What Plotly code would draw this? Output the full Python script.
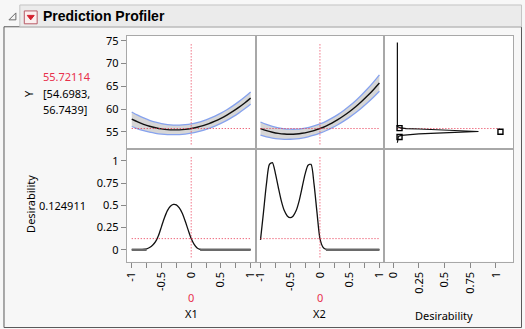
import plotly.graph_objects as go

W, H = 525, 329

# ---- profile data -------------------------------------------------------
# factor grid for the Y profile traces
grid = [-1.0, -0.9, -0.8, -0.7, -0.6, -0.5, -0.4, -0.3, -0.2, -0.1, 0.0,
        0.1, 0.2, 0.3, 0.4, 0.5, 0.6, 0.7, 0.8, 0.9, 1.0]

# predicted Y along X1 (X2 held at 0) and confidence half-width
y_x1 = [57.76, 57.16, 56.65, 56.23, 55.90, 55.65, 55.49, 55.42, 55.43, 55.53, 55.72,
        56.00, 56.36, 56.81, 57.35, 57.97, 58.68, 59.48, 60.37, 61.34, 62.40]
ci_x1 = [1.60, 1.50, 1.40, 1.30, 1.22, 1.15, 1.10, 1.06, 1.04, 1.03, 1.02,
         1.03, 1.05, 1.08, 1.10, 1.13, 1.17, 1.21, 1.26, 1.30, 1.35]

# predicted Y along X2 (X1 held at 0) and confidence half-width
y_x2 = [55.70, 55.25, 54.91, 54.66, 54.51, 54.47, 54.52, 54.67, 54.92, 55.27, 55.72,
        56.27, 56.92, 57.67, 58.52, 59.47, 60.51, 61.66, 62.91, 64.25, 65.70]
ci_x2 = [1.45, 1.36, 1.28, 1.21, 1.15, 1.10, 1.06, 1.04, 1.02, 1.02, 1.02,
         1.04, 1.07, 1.11, 1.17, 1.24, 1.32, 1.42, 1.53, 1.66, 1.80]

# finer grid for the desirability traces
grid_d = [-1.0, -0.95, -0.9, -0.85, -0.8, -0.75, -0.7, -0.65, -0.6, -0.55, -0.5,
          -0.45, -0.4, -0.35, -0.3, -0.25, -0.2, -0.15, -0.1, -0.05, 0.0,
          0.05, 0.1, 0.15, 0.2, 0.25, 0.3, 0.35, 0.4, 0.45, 0.5,
          0.55, 0.6, 0.65, 0.7, 0.75, 0.8, 0.85, 0.9, 0.95, 1.0]
d_x1 = [0, 0, 0, 0, 0.003, 0.01, 0.025, 0.05, 0.09, 0.16, 0.26,
        0.36, 0.44, 0.49, 0.51, 0.505, 0.47, 0.41, 0.32, 0.22, 0.125,
        0.06, 0.02, 0.005, 0, 0, 0, 0, 0, 0, 0,
        0, 0, 0, 0, 0, 0, 0, 0, 0, 0]
d_x2 = [0.11, 0.42, 0.74, 0.96, 0.98, 0.86, 0.70, 0.55, 0.44, 0.38, 0.36,
        0.38, 0.44, 0.55, 0.70, 0.85, 0.95, 0.96, 0.74, 0.42, 0.125,
        0.03, 0.005, 0, 0, 0, 0, 0, 0, 0, 0,
        0, 0, 0, 0, 0, 0, 0, 0, 0, 0]

# desirability function of Y (drawn sideways) and its control handles
desir_d = [0.04, 0.04, 0.06, 0.125, 0.25, 0.51, 0.83, 0.60, 0.25, 0.08, 0.05, 0.04]
desir_y = [74.6, 56.2, 55.9, 55.72, 55.62, 55.41, 55.07, 54.88, 54.55, 54.2, 54.0, 52.6]
handle_d = [0.061, 0.061, 1.044]
handle_y = [55.8, 53.85, 55.0]

# current settings
x1_now, x2_now = 0, 0
y_now, y_lo, y_hi = 55.72114, 54.6983, 56.7439
d_now = 0.124911
y_span = [52.24, 74.57]
d_span = [-0.086, 1.059]

# axis ranges and ticks
x_range = [-1.083, 1.083]
y_range = [51.3, 76.1]
d_range_x = [-0.087, 1.167]
d_range_y = [-0.134, 1.137]
x_tickvals = [-1, -0.75, -0.5, -0.25, 0, 0.25, 0.5, 0.75, 1]
x_ticktext = ["-1", "", "-0.5", "", "0", "", "0.5", "", "1"]
y_tickvals = [55, 60, 65, 70, 75]
d_tickvals = [0, 0.25, 0.5, 0.75, 1]
d_ticktext = ["0", "0.25", "0.5", "0.75", "1"]

# ---- styling -------------------------------------------------------------
FONT = "Noto Sans"
RED = "#e8304c"
DOTS = "1px,2px"
BAND_FILL = "#d6d6d6"
BAND_EDGE = "#86a2ee"
FRAME = "#a8a8a8"


def fx(px):
    return px / W


def fy(py):
    return 1 - py / H


cols = [(125, 255), (255, 385), (385, 515)]
rows = [(33, 147), (147, 261)]

fig = go.Figure()


def band(xs, ys, ci, xa, ya):
    upper = [v + c for v, c in zip(ys, ci)]
    lower = [v - c for v, c in zip(ys, ci)]
    fig.add_trace(go.Scatter(x=xs, y=upper, mode="lines", xaxis=xa, yaxis=ya,
                             line=dict(color=BAND_EDGE, width=1.3, shape="spline"),
                             hoverinfo="skip"))
    fig.add_trace(go.Scatter(x=xs, y=lower, mode="lines", xaxis=xa, yaxis=ya,
                             fill="tonexty", fillcolor=BAND_FILL,
                             line=dict(color=BAND_EDGE, width=1.3, shape="spline"),
                             hoverinfo="skip"))
    fig.add_trace(go.Scatter(x=xs, y=ys, mode="lines", xaxis=xa, yaxis=ya,
                             line=dict(color="#111111", width=1.4, shape="spline")))


def ref_lines(xa, ya, xv, yv, yspan, xspan):
    fig.add_trace(go.Scatter(x=[xv, xv], y=yspan, mode="lines", xaxis=xa, yaxis=ya,
                             line=dict(color=RED, width=1, dash=DOTS)))
    fig.add_trace(go.Scatter(x=xspan, y=[yv, yv], mode="lines", xaxis=xa, yaxis=ya,
                             line=dict(color=RED, width=1, dash=DOTS)))


def desir_curve(xs, ds, xa, ya):
    flat_x = [x if d < 0.015 else None for x, d in zip(xs, ds)]
    flat_y = [0 if d < 0.015 else None for d in ds]
    fig.add_trace(go.Scatter(x=xs, y=ds, mode="lines", xaxis=xa, yaxis=ya,
                             line=dict(color="#111111", width=1.3, shape="spline",
                                       smoothing=0.7)))
    fig.add_trace(go.Scatter(x=flat_x, y=flat_y, mode="lines", xaxis=xa, yaxis=ya,
                             connectgaps=False,
                             line=dict(color="#6a6a6a", width=2.4)))


# top row: Y profiles
band(grid, y_x1, ci_x1, "x", "y")
ref_lines("x", "y", x1_now, y_now, y_span, [-1, 1])
band(grid, y_x2, ci_x2, "x2", "y2")
ref_lines("x2", "y2", x2_now, y_now, y_span, [-1, 1])

# top right: desirability function
fig.add_trace(go.Scatter(x=[desir_d[0], 1.04], y=[y_now, y_now], mode="lines",
                         xaxis="x3", yaxis="y3",
                         line=dict(color=RED, width=1, dash=DOTS)))
fig.add_trace(go.Scatter(x=desir_d, y=desir_y, mode="lines", xaxis="x3", yaxis="y3",
                         line=dict(color="#111111", width=1.2)))
fig.add_trace(go.Scatter(x=handle_d, y=handle_y, mode="markers", xaxis="x3", yaxis="y3",
                         marker=dict(symbol="square-open", size=5, color="#000000",
                                     line=dict(width=1.4, color="#000000"))))

# bottom row: desirability profiles
desir_curve(grid_d, d_x1, "x4", "y4")
ref_lines("x4", "y4", x1_now, d_now, d_span, [-1, 1])
desir_curve(grid_d, d_x2, "x5", "y5")
ref_lines("x5", "y5", x2_now, d_now, d_span, [-1, 1])
fig.add_trace(go.Scatter(x=[None], y=[None], xaxis="x6", yaxis="y6", mode="markers"))

tickfont = dict(family=FONT, size=11, color="#000000")
base = dict(showline=True, mirror=True, linecolor=FRAME, linewidth=1,
            showgrid=False, zeroline=False, fixedrange=True)

layout_axes = {}
for i in range(6):
    r = 0 if i < 3 else 1
    c = i % 3
    xname = "xaxis" if i == 0 else f"xaxis{i + 1}"
    yname = "yaxis" if i == 0 else f"yaxis{i + 1}"
    xa = dict(base, domain=[fx(cols[c][0]), fx(cols[c][1])],
              anchor="y" if i == 0 else f"y{i + 1}")
    ya = dict(base, domain=[fy(rows[r][1]), fy(rows[r][0])],
              anchor="x" if i == 0 else f"x{i + 1}")
    xa["range"] = d_range_x if c == 2 else x_range
    ya["range"] = y_range if r == 0 else d_range_y
    if r == 1:
        xa.update(ticks="outside", ticklen=5, tickcolor="#888888", tickangle=-90,
                  tickfont=tickfont,
                  tickvals=d_tickvals if c == 2 else x_tickvals,
                  ticktext=d_ticktext if c == 2 else x_ticktext)
    else:
        xa.update(showticklabels=False, ticks="")
    if c == 0:
        ya.update(ticks="outside", ticklen=5, tickcolor="#888888", tickfont=tickfont,
                  tickvals=y_tickvals if r == 0 else d_tickvals,
                  ticktext=[str(v) for v in y_tickvals] if r == 0 else d_ticktext)
    else:
        ya.update(showticklabels=False, ticks="")
    layout_axes[xname] = xa
    layout_axes[yname] = ya

ann = []


def text(px, py, s, color="#000000", size=11, angle=0, xanchor="center", bold=False,
         family=FONT):
    ann.append(dict(x=fx(px), y=fy(py), xref="paper", yref="paper", text=s,
                    showarrow=False, textangle=angle, xanchor=xanchor, yanchor="middle",
                    font=dict(family=family, size=size, color=color)))


# header
text(38, 13, "<b>Prediction Profiler</b>", size=14, xanchor="left", family="Liberation Sans")
# response readout
text(25, 91, "Y", angle=-90)
text(38, 74, f"{y_now:.5f}", color=RED, xanchor="left")
text(38, 91, f"[{y_lo:.4f},", xanchor="left")
text(38, 107, f"{y_hi:.4f}]", xanchor="left")
# desirability readout
text(27, 203, "Desirability", angle=-90)
text(34, 204, f"{d_now:.6f}", xanchor="left")
# factor labels
text(190, 297, str(x1_now), color=RED)
text(190, 313, "X1")
text(320, 297, str(x2_now), color=RED)
text(320, 313, "X2")
text(445, 315, "Desirability")

shapes = [
    # outline box
    dict(type="rect", xref="paper", yref="paper", x0=fx(1), x1=fx(523.5), y0=fy(327.5), y1=fy(24),
         line=dict(color="#5a5a5a", width=1), fillcolor="rgba(0,0,0,0)", layer="below"),
    # header bar
    dict(type="rect", xref="paper", yref="paper", x0=fx(17), x1=fx(523.5), y0=fy(24), y1=fy(2),
         line=dict(color="#c4c4c4", width=1), fillcolor="#ebebeb", layer="below"),
    # disclosure triangle
    dict(type="path", xref="paper", yref="paper",
         path=f"M {fx(13)} {fy(10)} L {fx(13)} {fy(17)} L {fx(6)} {fy(17)} Z",
         line=dict(color="#6a6a6a", width=1), fillcolor="#f4f4f4"),
    # red menu button
    dict(type="rect", xref="paper", yref="paper", x0=fx(21.5), x1=fx(34.5), y0=fy(21), y1=fy(8),
         line=dict(color="#b85a66", width=1), fillcolor="#fbefef"),
    dict(type="path", xref="paper", yref="paper",
         path=f"M {fx(24.5)} {fy(12.5)} L {fx(31.5)} {fy(12.5)} L {fx(28)} {fy(17)} Z",
         line=dict(color="#d4202e", width=1), fillcolor="#d4202e"),
]

fig.update_layout(width=W, height=H, margin=dict(l=0, r=0, t=0, b=0),
                  paper_bgcolor="#f7f7f7", plot_bgcolor="#ffffff", showlegend=False,
                  font=dict(family=FONT, size=11, color="#000000"),
                  annotations=ann, shapes=shapes, **layout_axes)

fig.write_html("out.html")
